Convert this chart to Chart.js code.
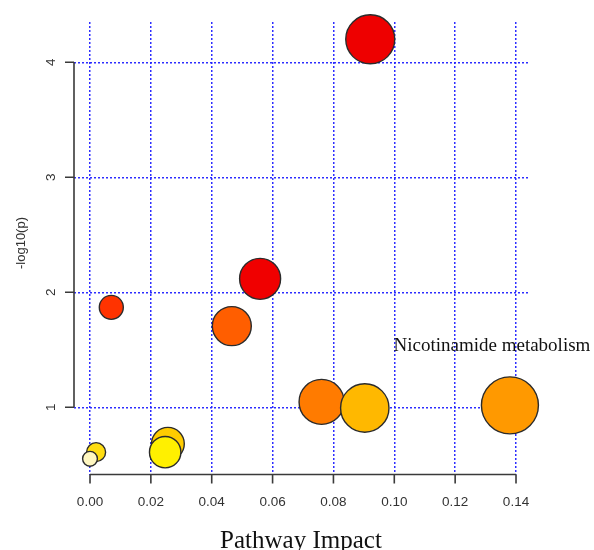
<!DOCTYPE html>
<html>
<head>
<meta charset="utf-8">
<script src="https://cdn.jsdelivr.net/npm/chart.js@4/dist/chart.umd.min.js"></script>
<style>
  body { margin: 0; background: #fff; }
</style>
</head>
<body>
<canvas id="canvasDiv" width="594" height="550"></canvas>
<script>
// pathway data, in drawing order (R draws the most significant first)
var impact = [0.0921, 0.0559, 0.0070, 0.0466, 0.0761, 0.1380, 0.0903, 0.0256, 0.0020, 0.0247, 0.0000];
var logp = [4.20, 2.117, 1.869, 1.706, 1.047, 1.017, 0.994, 0.683, 0.610, 0.610, 0.552];
var sizes = [24.5, 20.5, 12, 19.5, 22.5, 28.5, 24.2, 16.4, 9.5, 15.7, 7.4];
var colors = ["#EE0000", "#F00000", "#FF3300", "#FF5E00", "#FF7B00", "#FF9900",
  "#FFB800", "#FFCC00", "#FFDD11", "#FFF000", "#FFF7C0"];
var pointNames = ["", "", "", "", "", "Nicotinamide metabolism", "", "", "", "", ""];

var xTicks = [0, 0.02, 0.04, 0.06, 0.08, 0.10, 0.12, 0.14];
var xTickLabels = ["0.00", "0.02", "0.04", "0.06", "0.08", "0.10", "0.12", "0.14"];
var yTicks = [1, 2, 3, 4];
var yTickLabels = ["1", "2", "3", "4"];
var xTitle = "Pathway Impact";
var yTitle = "-log10(p)";

var points = [];
for (let i = 0; i < impact.length; i++) {
  points.push({ x: impact[i], y: logp[i], r: sizes[i] });
}

// R style axes: line only from first to last tick, outward ticks, rotated y labels
const rAxes = {
  id: "rAxes",
  afterDraw(chart) {
    const ctx = chart.ctx;
    const xs = chart.scales.x;
    const ys = chart.scales.y;
    const area = chart.chartArea;
    const bottom = area.bottom - 0.5;
    const left = area.left;
    ctx.save();
    ctx.strokeStyle = "#3a3a3a";
    ctx.lineWidth = 1.6;
    ctx.beginPath();
    ctx.moveTo(xs.getPixelForValue(xTicks[0]), bottom);
    ctx.lineTo(xs.getPixelForValue(xTicks[xTicks.length - 1]), bottom);
    xTicks.forEach((v) => {
      const px = xs.getPixelForValue(v);
      ctx.moveTo(px, bottom);
      ctx.lineTo(px, bottom + 9);
    });
    ctx.moveTo(left, ys.getPixelForValue(yTicks[0]));
    ctx.lineTo(left, ys.getPixelForValue(yTicks[yTicks.length - 1]));
    yTicks.forEach((v) => {
      const py = ys.getPixelForValue(v);
      ctx.moveTo(left, py);
      ctx.lineTo(left - 9, py);
    });
    ctx.stroke();

    // tick labels
    ctx.fillStyle = "#333";
    ctx.font = "13.5px 'Liberation Sans', Arial, sans-serif";
    ctx.textAlign = "center";
    ctx.textBaseline = "middle";
    xTicks.forEach((v, i) => {
      ctx.fillText(xTickLabels[i], xs.getPixelForValue(v), bottom + 28);
    });
    yTicks.forEach((v, i) => {
      ctx.save();
      ctx.translate(left - 23, ys.getPixelForValue(v));
      ctx.rotate(-Math.PI / 2);
      ctx.fillText(yTickLabels[i], 0, 0);
      ctx.restore();
    });

    // axis titles
    ctx.save();
    ctx.translate(21, 243);
    ctx.rotate(-Math.PI / 2);
    ctx.font = "13px 'Liberation Sans', Arial, sans-serif";
    ctx.fillText(yTitle, 0, 0);
    ctx.restore();

    ctx.fillStyle = "#111";
    ctx.font = "25px 'Liberation Serif', 'Times New Roman', serif";
    ctx.textBaseline = "alphabetic";
    ctx.fillText(xTitle, (area.left + area.right) / 2, 548);

    // point label
    ctx.font = "19px 'Liberation Serif', 'Times New Roman', serif";
    pointNames.forEach((name, i) => {
      if (!name) return;
      const px = xs.getPixelForValue(impact[i]);
      const py = ys.getPixelForValue(logp[i]);
      ctx.fillText(name, px - 18, py - 54);
    });
    ctx.restore();
  },
};

const gridStyle = {
  color: "rgba(35, 35, 255, 0.95)",
  lineWidth: 1.5,
  drawTicks: false,
  borderDash: [2, 2],
};

var chart = new Chart(document.getElementById("canvasDiv"), {
  type: "bubble",
  data: {
    datasets: [
      {
        data: points,
        backgroundColor: colors,
        borderColor: "#2b2b2b",
        borderWidth: 1.4,
        clip: false,
      },
    ],
  },
  options: {
    responsive: false,
    devicePixelRatio: 1,
    animation: false,
    events: [],
    layout: {
      autoPadding: false,
      padding: { left: 74, right: 66, top: 22, bottom: 75 },
    },
    plugins: {
      legend: { display: false },
      tooltip: { enabled: false },
    },
    scales: {
      x: {
        type: "linear",
        min: -0.00526,
        max: 0.14394,
        afterBuildTicks: (scale) => {
          scale.ticks = xTicks.map((v) => ({ value: v }));
        },
        ticks: { display: false },
        grid: gridStyle,
        border: { display: false, dash: [2, 2] },
      },
      y: {
        type: "linear",
        min: 0.4113,
        max: 4.3504,
        afterBuildTicks: (scale) => {
          scale.ticks = yTicks.map((v) => ({ value: v }));
        },
        ticks: { display: false },
        grid: gridStyle,
        border: { display: false, dash: [2, 2] },
      },
    },
  },
  plugins: [rAxes],
});
</script>
</body>
</html>
